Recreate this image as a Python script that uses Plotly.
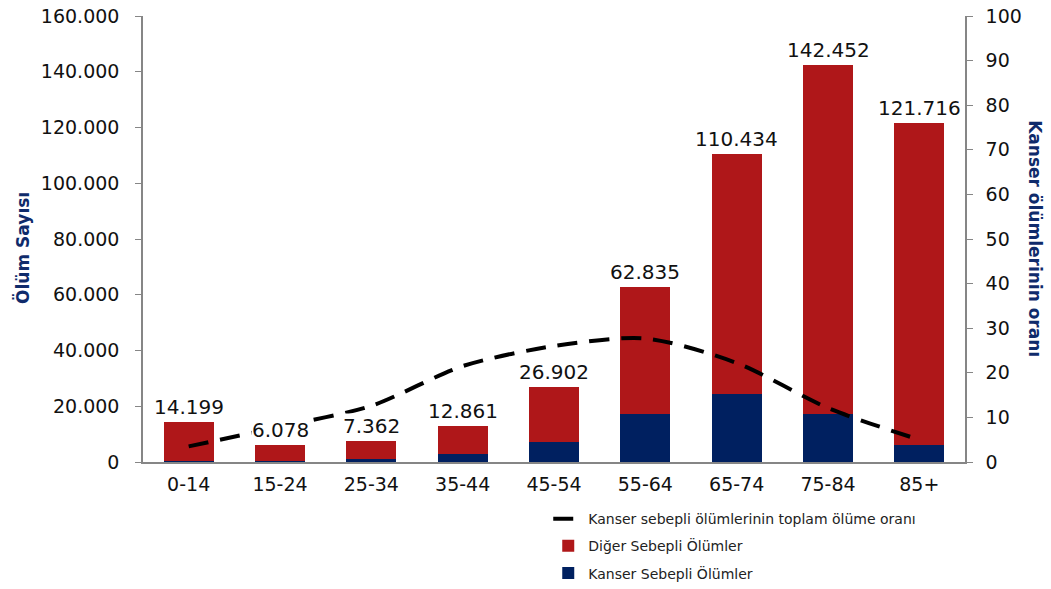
import plotly.graph_objects as go

age_groups = ["0-14", "15-24", "25-34", "35-44", "45-54", "55-64", "65-74", "75-84", "85+"]
total_deaths = [14199, 6078, 7362, 12861, 26902, 62835, 110434, 142452, 121716]
cancer_deaths = [500, 480, 930, 2800, 7000, 17400, 24500, 17200, 6100]
cancer_share = [3.5, 7.9, 12.6, 21.5, 26.0, 27.7, 22.2, 12.1, 5.0]

other_deaths = [t - c for t, c in zip(total_deaths, cancer_deaths)]
total_labels = [f"{v:,}".replace(",", ".") for v in total_deaths]

RED = "#AF1719"
NAVY = "#002060"
TITLE_NAVY = "#0F2B6B"
AXIS_GRAY = "#868686"
FONT = "Tahoma, DejaVu Sans, sans-serif"

fig = go.Figure()

fig.add_trace(go.Bar(
    x=age_groups, y=cancer_deaths, name="Kanser Sebepli Ölümler",
    marker=dict(color=NAVY, line=dict(width=0)), legendrank=3, legendgroup="c",
))
fig.add_trace(go.Bar(
    x=age_groups, y=other_deaths, name="Diğer Sebepli Ölümler",
    marker=dict(color=RED, line=dict(width=0)), legendrank=2, legendgroup="o",
))
fig.add_trace(go.Scatter(
    x=age_groups, y=cancer_share, yaxis="y2", mode="lines",
    name="Kanser sebepli ölümlerinin toplam ölüme oranı",
    line=dict(color="black", width=4, dash="20px,12px", shape="spline", smoothing=0.8),
    legendrank=1, legendgroup="r",
))

# total labels above each stacked bar, on a white box so the ratio line passes behind them
total_annotations = [
    dict(x=cat, y=tot, xref="x", yref="y", text=lbl, showarrow=False,
         xanchor="center", yanchor="bottom", yshift=2, bgcolor="white", borderpad=0,
         font=dict(size=20, color="#111111", family=FONT))
    for cat, tot, lbl in zip(age_groups, total_deaths, total_labels)
]

fig.update_layout(
    width=1051, height=589,
    margin=dict(l=143, r=86, t=16, b=127, autoexpand=False),
    paper_bgcolor="white", plot_bgcolor="white",
    barmode="stack", bargap=0.45,
    separators=",.",
    font=dict(family=FONT, size=19, color="#111111"),
    showlegend=True,
    legend=dict(
        x=0.493, y=-0.092, xanchor="left", yanchor="top",
        bgcolor="rgba(0,0,0,0)", font=dict(size=14, color="#222222", family=FONT),
        tracegroupgap=6, itemwidth=30, traceorder="grouped",
    ),
    xaxis=dict(
        showline=True, linecolor=AXIS_GRAY, linewidth=1.5,
        ticks="", showgrid=False, tickfont=dict(size=19), ticklabelstandoff=4,
    ),
    yaxis=dict(
        range=[0, 160000], tickvals=list(range(0, 160001, 20000)),
        tickformat=",d", showline=True, linecolor=AXIS_GRAY, linewidth=1.5,
        ticks="outside", ticklen=6, tickcolor=AXIS_GRAY, showgrid=False,
        zeroline=False, tickfont=dict(size=19), ticklabelstandoff=12,
    ),
    yaxis2=dict(
        overlaying="y", side="right", range=[0, 100],
        tickvals=list(range(0, 101, 10)), showline=True, linecolor=AXIS_GRAY,
        linewidth=1.5, ticks="outside", ticklen=6, tickcolor=AXIS_GRAY,
        showgrid=False, zeroline=False, tickfont=dict(size=19), ticklabelstandoff=9,
    ),
    annotations=total_annotations + [
        dict(text="<b>Ölüm Sayısı</b>", xref="paper", yref="paper",
             x=-0.146, y=0.48, xanchor="center", yanchor="middle",
             textangle=-90, showarrow=False,
             font=dict(size=17, color=TITLE_NAVY, family=FONT)),
        dict(text="<b>Kanser ölümlerinin oranı</b>", xref="paper", yref="paper",
             x=1.085, y=0.5, xanchor="center", yanchor="middle",
             textangle=90, showarrow=False,
             font=dict(size=17, color=TITLE_NAVY, family=FONT)),
    ],
)

fig.write_html("out.html")
